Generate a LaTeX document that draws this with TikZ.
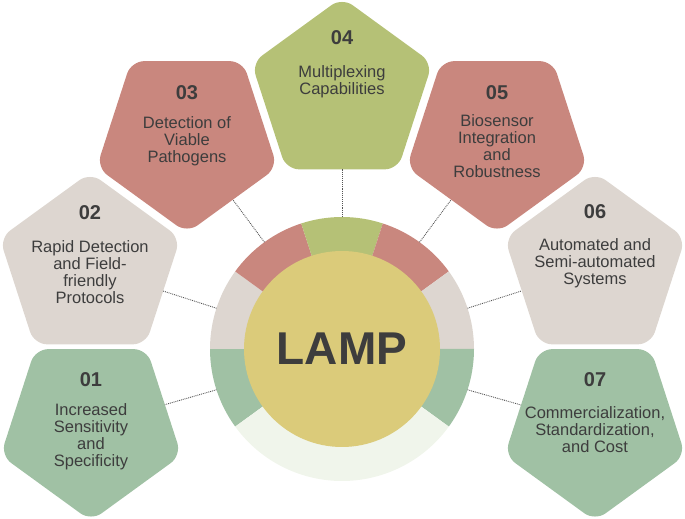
\documentclass[tikz,border=0pt]{standalone}
\usepackage{fontspec}
\setmainfont{Liberation Sans}
\usetikzlibrary{shapes.geometric}
\definecolor{cred}{HTML}{C9877E}
\definecolor{colive}{HTML}{B5C176}
\definecolor{cgray}{HTML}{DDD6D0}
\definecolor{csage}{HTML}{A0C1A4}
\definecolor{ccore}{HTML}{DBCB7A}
\definecolor{cpale}{HTML}{F0F5EB}
\definecolor{ctext}{HTML}{3D3D3D}
\definecolor{cdot}{HTML}{555555}
\begin{document}
\begin{tikzpicture}[x=1pt,y=1pt,
  pent/.style={regular polygon, regular polygon sides=5, minimum size=190pt,
    inner sep=0pt, outer sep=0pt, rounded corners=13pt, draw=none},
  pdown/.style={shape border rotate=180},
  num/.style={font=\fontsize{20}{20}\selectfont\bfseries, text=ctext, inner sep=0pt},
  desc/.style={font=\fontsize{16.5}{17}\selectfont, text=ctext, align=center, inner sep=0pt},
  conn/.style={densely dotted, line width=0.9pt, draw=cdot}]
\useasboundingbox (0,0) rectangle (685,519);

% ring segments
\begin{scope}[shift={(342,170)}]
  \fill[csage]  (0,0) -- (180:132) arc[start angle=180, end angle=216, radius=132] -- cycle;
  \fill[cgray]  (0,0) -- (144:132) arc[start angle=144, end angle=180, radius=132] -- cycle;
  \fill[cred]   (0,0) -- (108:132) arc[start angle=108, end angle=144, radius=132] -- cycle;
  \fill[colive] (0,0) -- (72:132)  arc[start angle=72,  end angle=108, radius=132] -- cycle;
  \fill[cred]   (0,0) -- (36:132)  arc[start angle=36,  end angle=72,  radius=132] -- cycle;
  \fill[cgray]  (0,0) -- (0:132)   arc[start angle=0,   end angle=36,  radius=132] -- cycle;
  \fill[csage]  (0,0) -- (-36:132) arc[start angle=-36, end angle=0,   radius=132] -- cycle;
  \fill[cpale]  (0,0) -- (216:132) arc[start angle=216, end angle=324, radius=132] -- cycle;
\end{scope}
\node[circle, minimum size=264pt, inner sep=0pt, outer sep=0pt] (ring) at (342,170) {};
\node[circle, fill=ccore, minimum size=196pt, inner sep=0pt,
      font=\fontsize{46}{46}\selectfont\bfseries, text=ctext] (core) at (342,170) {LAMP};

% pentagons
\node[pent, pdown, fill=csage]  (p1) at (91,93) {};
\node[pent, fill=cgray]         (p2) at (90,251.5) {};
\node[pent, pdown, fill=cred]   (p3) at (187,381) {};
\node[pent, fill=colive]        (p4) at (342,426.5) {};
\node[pent, pdown, fill=cred]   (p5) at (497,381) {};
\node[pent, fill=cgray]         (p6) at (595,251.5) {};
\node[pent, pdown, fill=csage]  (p7) at (595,93) {};

% connectors
\draw[conn] (ring.198) -- (p1);
\draw[conn] (ring.162) -- (p2);
\draw[conn] (ring.126) -- (p3);
\draw[conn] (ring.90)  -- (p4);
\draw[conn] (ring.54)  -- (p5);
\draw[conn] (ring.18)  -- (p6);
\draw[conn] (ring.-18) -- (p7);

% numbers
\node[num] (n1) at (91,139) {01};
\node[num] (n2) at (90,306) {02};
\node[num] (n3) at (187,426) {03};
\node[num] (n4) at (342,481) {04};
\node[num] (n5) at (497,426) {05};
\node[num] (n6) at (595,307) {06};
\node[num] (n7) at (595,139) {07};

% descriptions
\node[desc] (t1) at (91,82) {Increased\\Sensitivity\\and\\Specificity};
\node[desc] (t2) at (90,247) {Rapid Detection\\and Field-\\friendly\\Protocols};
\node[desc] (t3) at (187,378) {Detection of\\Viable\\Pathogens};
\node[desc] (t4) at (342,437.5) {Multiplexing\\Capabilities};
\node[desc] (t5) at (497,372.5) {Biosensor\\Integration\\and\\Robustness};
\node[desc] (t6) at (595,256) {Automated and\\Semi-automated\\Systems};
\node[desc] (t7) at (595,89.5) {Commercialization,\\Standardization,\\and Cost};
\end{tikzpicture}
\end{document}
